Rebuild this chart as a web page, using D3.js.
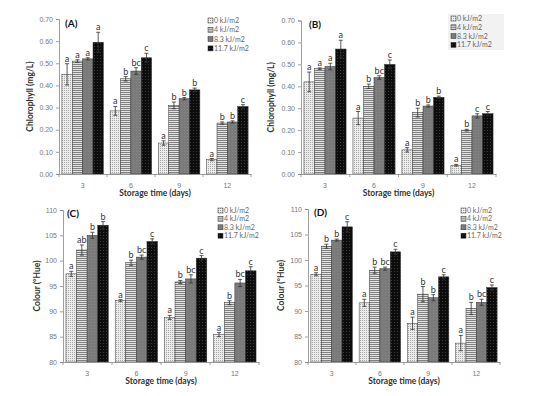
<!DOCTYPE html>
<html><head><meta charset="utf-8">
<script src="https://cdn.jsdelivr.net/npm/d3@7"></script>
<style>
html,body{margin:0;padding:0;background:#fff;}
svg{display:block;font-family:Lato, "Open Sans", sans-serif;}
</style></head>
<body>
<svg id="chart" width="537" height="396"></svg>
<script>
// ---- data ----
const days = ["3", "6", "9", "12"];
const doses = ["0 kJ/m2", "4 kJ/m2", "8.3 kJ/m2", "11.7 kJ/m2"];

// Panel A: chlorophyll (mg/L), rows = doses, cols = days
const aMean = [[0.45, 0.285, 0.14, 0.065], [0.51, 0.43, 0.31, 0.23], [0.52, 0.465, 0.34, 0.235], [0.595, 0.525, 0.38, 0.305]];
const aErr  = [[0.048, 0.02, 0.01, 0.005], [0.006, 0.01, 0.015, 0.005], [0.005, 0.015, 0.005, 0.005], [0.045, 0.02, 0.008, 0.008]];
const aLet  = [["a", "a", "a", "a"], ["a", "b", "b", "b"], ["a", "bc", "b", "b"], ["a", "c", "b", "c"]];

// Panel B: chlorophyll (mg/L)
const bMean = [[0.42, 0.255, 0.11, 0.04], [0.48, 0.40, 0.28, 0.20], [0.49, 0.44, 0.31, 0.265], [0.57, 0.50, 0.35, 0.275]];
const bErr  = [[0.045, 0.03, 0.01, 0.004], [0.004, 0.01, 0.02, 0.004], [0.015, 0.008, 0.005, 0.01], [0.04, 0.02, 0.005, 0.01]];
const bLet  = [["a", "a", "a", "a"], ["a", "b", "b", "b"], ["a", "bc", "b", "c"], ["a", "c", "b", "c"]];

// Panel C: colour (°Hue)
const cMean = [[97.4, 92.1, 88.8, 85.4], [102.1, 99.6, 95.8, 91.7], [105.0, 100.7, 96.4, 95.6], [107.0, 103.8, 100.5, 98.0]];
const cErr  = [[0.5, 0.2, 0.4, 0.4], [1.0, 0.5, 0.3, 0.4], [0.6, 0.4, 0.8, 0.7], [0.7, 0.5, 0.5, 0.8]];
const cLet  = [["a", "a", "a", "a"], ["ab", "b", "b", "b"], ["b", "bc", "bc", "bc"], ["b", "c", "c", "c"]];

// Panel D: colour (°Hue)
const dMean = [[97.2, 91.6, 87.6, 83.7], [102.7, 98.0, 93.3, 90.5], [103.9, 98.3, 92.6, 91.7], [106.5, 101.6, 96.7, 94.6]];
const dErr  = [[0.3, 0.7, 1.2, 1.5], [0.4, 0.6, 1.5, 1.2], [0.2, 0.3, 0.6, 0.6], [1.0, 0.5, 0.4, 0.5]];
const dLet  = [["a", "a", "a", "a"], ["b", "b", "b", "b"], ["b", "bc", "b", "bc"], ["c", "c", "c", "c"]];

const chlTicks = [0, 0.1, 0.2, 0.3, 0.4, 0.5, 0.6, 0.7];
const hueTicks = [80, 85, 90, 95, 100, 105, 110];

// ---- drawing ----
const svg = d3.select("#chart");
const defs = svg.append("defs");

function mkPattern(id, bg, w, h, draw) {
  const p = defs.append("pattern").attr("id", id).attr("patternUnits", "userSpaceOnUse")
    .attr("width", w).attr("height", h);
  p.append("rect").attr("width", w).attr("height", h).attr("fill", bg);
  draw(p);
}
mkPattern("p0", "#ececec", 2, 2, p => {
  p.append("rect").attr("x", 0).attr("y", 0).attr("width", 1).attr("height", 1).attr("fill", "#a8a8a8");
});
mkPattern("p1", "#e2e2e2", 4, 4, p => {
  p.append("path").attr("d", "M0,1 L1,0 L2,1 L3,0 L4,1 M0,3 L1,2 L2,3 L3,2 L4,3")
    .attr("stroke", "#6a6a6a").attr("stroke-width", 0.8).attr("fill", "none");
});
mkPattern("p2", "#7a7a7a", 3, 3, p => {
  p.append("rect").attr("x", 1).attr("y", 1).attr("width", 1).attr("height", 1).attr("fill", "#888");
});
mkPattern("p3", "#0d0d0d", 3, 3, p => {
  p.append("rect").attr("x", 1).attr("y", 1).attr("width", 0.8).attr("height", 0.8).attr("fill", "#555");
});
const fills = ["url(#p0)", "url(#p1)", "url(#p2)", "url(#p3)"];

function drawPanel(cfg) {
  const g = svg.append("g");
  const x0 = d3.scaleBand().domain(days).range([cfg.left, cfg.right]).paddingInner(0.14).paddingOuter(0.06);
  const x1 = d3.scaleBand().domain(doses).range([0, x0.bandwidth()]).padding(0);
  const y = d3.scaleLinear().domain(cfg.domain).range([cfg.bottom, cfg.top]);

  const ya = g.append("g").attr("transform", `translate(${cfg.left},0)`)
    .call(d3.axisLeft(y).tickValues(cfg.ticks).tickSize(3).tickPadding(3).tickFormat(cfg.fmt));
  ya.select(".domain").attr("stroke", "#888").attr("stroke-width", 0.8);
  ya.selectAll(".tick line").attr("stroke", "#888").attr("stroke-width", 0.8);
  ya.selectAll("text").attr("fill", "#777").style("font-size", "7px");

  doses.forEach((dose, si) => {
    days.forEach((day, di) => {
      const v = cfg.mean[si][di], e = cfg.err[si][di];
      const bx = x0(day) + x1(dose), bw = x1.bandwidth();
      g.append("rect").attr("x", bx).attr("y", y(v)).attr("width", bw).attr("height", y(cfg.domain[0]) - y(v))
        .attr("fill", fills[si]).attr("stroke", "#333").attr("stroke-width", 0.5);
      const cx = bx + bw / 2;
      const yt = y(v + e), yb = y(v - e);
      g.append("line").attr("x1", cx).attr("x2", cx).attr("y1", yt).attr("y2", yb).attr("stroke", "#333").attr("stroke-width", 0.8);
      [yt, yb].forEach(yy => g.append("line").attr("x1", cx - 2).attr("x2", cx + 2).attr("y1", yy).attr("y2", yy)
        .attr("stroke", "#333").attr("stroke-width", 0.8));
      g.append("text").attr("x", cx).attr("y", yt - 2).attr("text-anchor", "middle")
        .style("font-size", "9px").attr("fill", "#333").text(cfg.letters[si][di]);
    });
  });

  const xa = g.append("g").attr("transform", `translate(0,${cfg.bottom})`)
    .call(d3.axisBottom(x0).tickSize(0).tickPadding(9));
  xa.select(".domain").attr("stroke", "#888").attr("stroke-width", 0.8);
  xa.selectAll("text").attr("fill", "#777").style("font-size", "7px");
  const bounds = d3.range(days.length + 1).map(i => cfg.left + (cfg.right - cfg.left) * i / days.length);
  bounds.forEach(bx => g.append("line").attr("x1", bx).attr("x2", bx).attr("y1", cfg.bottom).attr("y2", cfg.bottom + 3)
    .attr("stroke", "#888").attr("stroke-width", 0.8));

  g.append("text").attr("x", (cfg.left + cfg.right) / 2).attr("y", cfg.bottom + 22).attr("text-anchor", "middle")
    .style("font-size", "8.5px").style("font-weight", "bold").attr("fill", "#333").text("Storage time (days)");
  g.append("text").attr("transform", `translate(${cfg.ytx},${(cfg.top + cfg.bottom) / 2}) rotate(-90)`)
    .attr("text-anchor", "middle").style("font-size", "8.5px").style("font-weight", "bold").attr("fill", "#333").text(cfg.ytitle);
  g.append("text").attr("x", cfg.labelX).attr("y", cfg.labelY).style("font-size", "10px").style("font-weight", "bold")
    .attr("fill", "#111").text(cfg.label);

  const lg = g.append("g").attr("transform", `translate(${cfg.legX},${cfg.legY})`);
  if (cfg.legBg) lg.append("rect").attr("x", -3).attr("y", -6).attr("width", 56).attr("height", 36).attr("fill", "#f2f2f2");
  doses.forEach((dose, i) => {
    const row = lg.append("g").attr("transform", `translate(0,${i * cfg.legStep})`);
    row.append("rect").attr("x", 0).attr("y", -4).attr("width", 5).attr("height", 5).attr("fill", fills[i]).attr("stroke", "#333").attr("stroke-width", 0.5);
    row.append("text").attr("x", 6).attr("y", 1).style("font-size", "7px").attr("fill", "#666").text(dose);
  });
}

const fmt2 = d3.format(".2f");
const fmt0 = d3.format("d");
drawPanel({label: "(A)", mean: aMean, err: aErr, letters: aLet, left: 59, right: 251, top: 19, bottom: 174,
  domain: [0, 0.7], ticks: chlTicks, fmt: fmt2, ytitle: "Chlorophyll (mg/L)", ytx: 33,
  labelX: 65, labelY: 27, legX: 208, legY: 22, legStep: 9.3, legBg: false});
drawPanel({label: "(B)", mean: bMean, err: bErr, letters: bLet, left: 301, right: 496, top: 20.5, bottom: 174,
  domain: [0, 0.7], ticks: chlTicks, fmt: fmt2, ytitle: "Chlorophyll (mg/L)", ytx: 274,
  labelX: 309, labelY: 28, legX: 451, legY: 20, legStep: 8.8, legBg: true});
drawPanel({label: "(C)", mean: cMean, err: cErr, letters: cLet, left: 63, right: 259, top: 210, bottom: 362,
  domain: [80, 110], ticks: hueTicks, fmt: fmt0, ytitle: "Colour (°Hue)", ytx: 40,
  labelX: 67, labelY: 217, legX: 218, legY: 212, legStep: 8.4, legBg: false});
drawPanel({label: "(D)", mean: dMean, err: dErr, letters: dLet, left: 308, right: 500, top: 209, bottom: 362,
  domain: [80, 110], ticks: hueTicks, fmt: fmt0, ytitle: "Colour (°Hue)", ytx: 284,
  labelX: 314, labelY: 216, legX: 461, legY: 212, legStep: 8.4, legBg: false});
</script>
</body></html>
